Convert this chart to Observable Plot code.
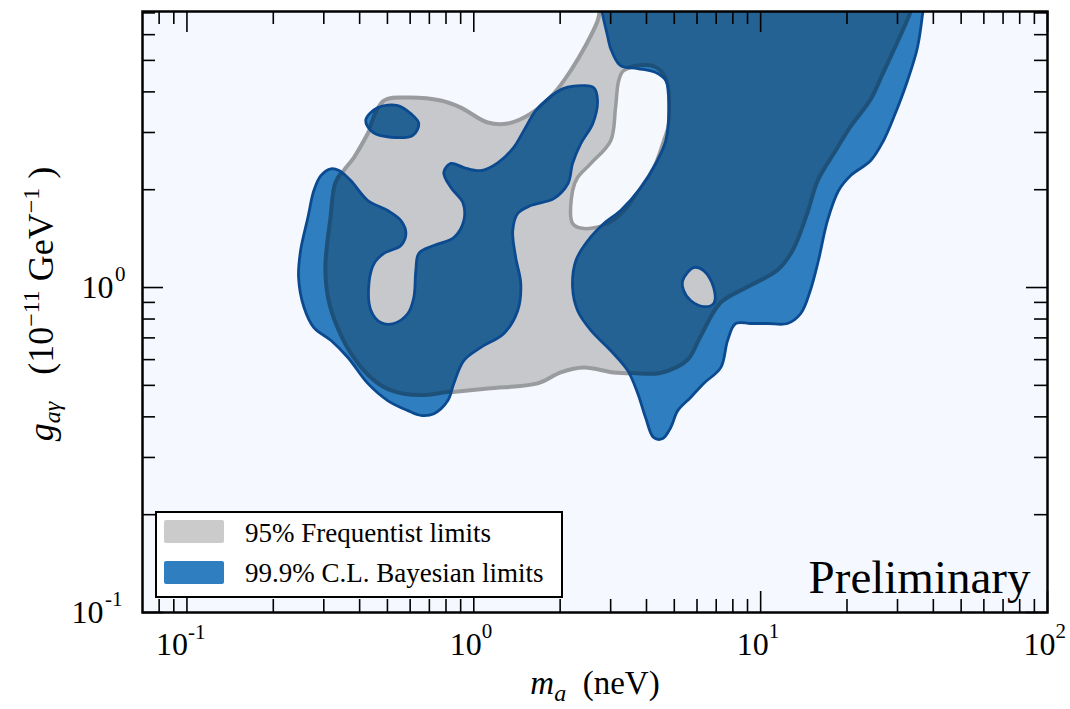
<!DOCTYPE html>
<html>
<head>
<meta charset="utf-8">
<script src="https://cdn.jsdelivr.net/npm/d3@7"></script>
<script src="https://cdn.jsdelivr.net/npm/@observablehq/plot@0.6"></script>
<style>
  body { margin: 0; background: #fff; }
  #wrap { position: relative; width: 1070px; height: 709px; font-family: "Liberation Serif", "DejaVu Serif", serif; color: #000; overflow: hidden; }
  #wrap svg { position: absolute; left: 0; top: 0; }
  .ov { position: absolute; white-space: nowrap; }
  #legend { position: absolute; left: 155px; top: 511px; width: 408px; height: 87px; box-sizing: border-box; border: 2px solid #000; background: #fff; }
  #legend .sw { position: absolute; width: 60px; height: 23px; border-radius: 2px; }
  #legend .lab { position: absolute; left: 88px; font-size: 27px; line-height: 27px; white-space: nowrap; }
  .sup { font-size: 24px; position: relative; top: -14px; }
  .sub { font-size: 24px; position: relative; top: 7px; }
</style>
</head>
<body>
<div id="wrap"></div>
<script>
// ---------- data (m_a in neV, g_agamma in 1e-11 GeV^-1) ----------
const frequentistOuter = [
  [0.318,1.641],[0.330,2.089],[0.352,2.291],[0.382,2.512],[0.427,2.978],[0.486,3.761],[0.589,3.843],
  [0.767,3.761],[0.901,3.579],[1.119,3.219],[1.313,3.197],[1.580,3.429],[1.900,3.953],[2.178,4.652],
  [2.455,5.555],[2.704,6.633],[2.770,7.37],[3.0,10],[34.7,10],[33.9,7.37],[33.3,6.97],[30.0,5.634],
  [26.8,4.55],[24.2,3.761],[20.6,3.106],[18.2,2.602],[15.9,2.134],[14.6,1.690],[13.0,1.300],[11.5,1.128],
  [9.01,1.0],[7.26,0.893],[6.18,0.702],[5.57,0.596],[4.48,0.544],[3.61,0.544],[3.07,0.548],[2.42,0.567],
  [2.01,0.548],[1.67,0.507],[1.119,0.489],[0.812,0.475],[0.654,0.465],[0.514,0.482],[0.449,0.518],
  [0.382,0.609],[0.339,0.738],[0.313,0.912],[0.305,1.152]
];
const frequentistHole = [
  [3.33,4.65],[4.04,4.82],[4.48,4.65],[4.74,4.24],[4.78,3.20],[4.59,2.83],[4.24,2.34],[3.82,2.03],
  [3.44,1.763],[3.00,1.585],[2.42,1.519],[2.21,1.574],[2.21,1.988],[2.30,2.18],[2.56,2.41],[3.00,2.83],
  [3.12,3.58],[3.20,4.33]
];
const bayesianLeft = [
  [0.318,2.32],[0.339,2.29],[0.373,2.13],[0.427,1.853],[0.501,1.726],[0.557,1.607],[0.580,1.466],
  [0.557,1.347],[0.486,1.273],[0.449,1.185],[0.431,1.029],[0.438,0.850],[0.474,0.780],[0.526,0.775],
  [0.589,0.832],[0.618,0.932],[0.628,1.128],[0.643,1.273],[0.726,1.347],[0.852,1.425],[0.923,1.607],
  [0.916,1.826],[0.832,2.03],[0.786,2.26],[0.832,2.41],[0.923,2.34],[1.058,2.29],[1.212,2.42],
  [1.378,2.70],[1.494,3.04],[1.644,3.50],[1.810,3.81],[2.06,4.10],[2.42,4.18],[2.62,4.12],[2.70,3.76],
  [2.60,3.20],[2.36,2.77],[2.21,2.41],[2.13,2.09],[1.90,1.878],[1.580,1.788],[1.423,1.69],[1.367,1.497],
  [1.400,1.237],[1.458,1.029],[1.423,0.850],[1.273,0.722],[1.058,0.654],[0.923,0.596],[0.852,0.507],
  [0.812,0.449],[0.726,0.409],[0.654,0.404],[0.589,0.418],[0.501,0.449],[0.427,0.507],[0.364,0.609],
  [0.318,0.687],[0.277,0.753],[0.256,0.868],[0.245,1.073],[0.249,1.30],[0.264,1.641],[0.277,1.988],
  [0.293,2.21]
];
const bayesianRight = [
  [2.91,10],[2.95,5.75],[3.05,5.25],[3.25,4.82],[3.73,4.72],[4.31,4.59],[4.67,4.33],[4.78,3.58],
  [4.67,2.83],[4.31,2.41],[3.82,2.03],[3.25,1.726],[2.84,1.574],[2.50,1.395],[2.27,1.211],[2.21,1.0],
  [2.30,0.850],[2.56,0.738],[3.00,0.640],[3.44,0.555],[3.73,0.472],[3.97,0.398],[4.24,0.345],[4.56,0.343],
  [4.86,0.371],[5.14,0.418],[5.70,0.459],[6.33,0.507],[7.26,0.567],[7.67,0.687],[8.18,0.775],[9.23,0.775],
  [10.6,0.775],[12.4,0.775],[13.8,0.832],[14.9,0.979],[15.9,1.211],[17.1,1.607],[18.7,1.988],[20.6,2.21],
  [24.2,2.46],[26.8,2.83],[29.1,3.34],[32.5,4.33],[35.2,5.47],[36.7,6.97],[38.2,10]
];
const bayesianIsland = [
  [0.420,3.27],[0.463,3.58],[0.543,3.63],[0.603,3.43],[0.643,3.20],[0.613,2.94],[0.514,2.90],[0.445,3.00]
];
const bayesianHole = [
  [5.35,1.051],[5.84,1.152],[6.33,1.128],[6.86,1.0],[6.86,0.893],[6.33,0.874],[5.70,0.912],[5.39,0.979]
];

const xMajorTicks = [0.1, 1, 10, 100];
const xTickExponents = ["-1", "0", "1", "2"];
const xMinorTicks = [0.08, 0.09, 0.2, 0.3, 0.4, 0.5, 0.6, 0.7, 0.8, 0.9, 2, 3, 4, 5, 6, 7, 8, 9, 20, 30, 40, 50, 60, 70, 80, 90];
const yMajorTicks = [0.1, 1];
const yTickExponents = ["-1", "0"];
const yMinorTicks = [0.2, 0.3, 0.4, 0.5, 0.6, 0.7, 0.8, 0.9, 2, 3, 4, 5, 6, 7];
const legendLabels = ["95% Frequentist limits", "99.9% C.L. Bayesian limits"];
const watermark = "Preliminary";

// ---------- styles (unique colour strings double as handles) ----------
const BG = "#f5f9ff";
const HOLE_BG = "#f5f9fe";
const GRAY_FILL = "#c6c8cc";
const HOLE_GRAY = "#c6c8cb";
const GRAY_LINE = "#9a9b9e";
const GRAY_LINE_HOLE = "#9a9b9d";
const BLUE = "#2f7ec0";           // Bayesian region on background
const BLUE_OVER_GRAY = "#246293"; // Bayesian region over the frequentist region
const GRAY_LINE_UNDER_BLUE = "#1e5179";
const BLUE_EDGE = "#0c4a90";

const W = 905, H = 601; // inner plot size (pixels)

const poly = (data, opts) => Plot.line(data, {
  x: d => d[0], y: d => d[1], curve: "catmull-rom-closed", clip: true, ...opts
});

const xLab = xMajorTicks.map((v, i) => ({v, e: xTickExponents[i]}));
const yLab = yMajorTicks.map((v, i) => ({v, e: yTickExponents[i]}));
const one = d => d.e.length === 1;
const two = d => d.e.length !== 1;

const plot = Plot.plot({
  width: 1070, height: 709,
  marginLeft: 142, marginRight: 23, marginTop: 11, marginBottom: 97,
  x: {type: "log", domain: [0.07, 100], axis: null},
  y: {type: "log", domain: [0.1, 7.07], axis: null},
  style: {fontFamily: '"Liberation Serif", "DejaVu Serif", serif', background: "transparent", color: "#000"},
  marks: [
    Plot.frame({fill: BG, stroke: "none"}),
    poly(frequentistOuter, {fill: GRAY_FILL, stroke: "none"}),
    poly(frequentistHole, {fill: HOLE_BG, stroke: "none"}),
    poly(frequentistOuter, {fill: "none", stroke: GRAY_LINE, strokeWidth: 4}),
    poly(frequentistHole, {fill: "none", stroke: GRAY_LINE_HOLE, strokeWidth: 3.5}),
    ...[bayesianLeft, bayesianRight, bayesianIsland].map(d =>
      poly(d, {fill: BLUE, stroke: "none"})),
    poly(bayesianHole, {fill: HOLE_GRAY, stroke: "none"}),
    ...[bayesianLeft, bayesianRight, bayesianIsland, bayesianHole].map(d =>
      poly(d, {fill: "none", stroke: BLUE_EDGE, strokeWidth: 2.8})),
    // ticks (inward, all four sides)
    Plot.ruleX(xMajorTicks, {x: d => d, insetTop: H - 21, stroke: "#000", strokeWidth: 1.6}),
    Plot.ruleX(xMajorTicks, {x: d => d, insetBottom: H - 21, stroke: "#000", strokeWidth: 1.6}),
    Plot.ruleX(xMinorTicks, {x: d => d, insetTop: H - 13, stroke: "#000", strokeWidth: 1.6}),
    Plot.ruleX(xMinorTicks, {x: d => d, insetBottom: H - 13, stroke: "#000", strokeWidth: 1.6}),
    Plot.ruleY(yMajorTicks, {y: d => d, insetRight: W - 21, stroke: "#000", strokeWidth: 1.6}),
    Plot.ruleY(yMajorTicks, {y: d => d, insetLeft: W - 21, stroke: "#000", strokeWidth: 1.6}),
    Plot.ruleY(yMinorTicks, {y: d => d, insetRight: W - 13, stroke: "#000", strokeWidth: 1.6}),
    Plot.ruleY(yMinorTicks, {y: d => d, insetLeft: W - 13, stroke: "#000", strokeWidth: 1.6}),
    Plot.frame({stroke: "#000", strokeWidth: 2.5}),
    // x tick labels
    Plot.text(xLab, {filter: one, x: "v", text: () => "10", frameAnchor: "bottom", textAnchor: "end", lineAnchor: "bottom", dx: 8, dy: 42, fontSize: 32, fill: "#000"}),
    Plot.text(xLab, {filter: one, x: "v", text: "e", frameAnchor: "bottom", textAnchor: "start", lineAnchor: "bottom", dx: 8, dy: 25, fontSize: 21, fill: "#000"}),
    Plot.text(xLab, {filter: two, x: "v", text: () => "10", frameAnchor: "bottom", textAnchor: "end", lineAnchor: "bottom", dx: 1, dy: 42, fontSize: 32, fill: "#000"}),
    Plot.text(xLab, {filter: two, x: "v", text: "e", frameAnchor: "bottom", textAnchor: "start", lineAnchor: "bottom", dx: 1, dy: 26, fontSize: 21, fill: "#000"}),
    // y tick labels
    Plot.text(yLab, {filter: one, y: "v", text: () => "10", frameAnchor: "left", textAnchor: "end", lineAnchor: "bottom", dx: -29, dy: 10, fontSize: 32, fill: "#000"}),
    Plot.text(yLab, {filter: one, y: "v", text: "e", frameAnchor: "left", textAnchor: "end", lineAnchor: "bottom", dx: -17, dy: -7, fontSize: 21, fill: "#000"}),
    Plot.text(yLab, {filter: two, y: "v", text: () => "10", frameAnchor: "left", textAnchor: "end", lineAnchor: "bottom", dx: -39, dy: 10, fontSize: 32, fill: "#000"}),
    Plot.text(yLab, {filter: two, y: "v", text: "e", frameAnchor: "left", textAnchor: "end", lineAnchor: "bottom", dx: -20, dy: -7, fontSize: 21, fill: "#000"}),
    // watermark
    Plot.text([watermark], {text: d => d, frameAnchor: "bottom-right", textAnchor: "end", lineAnchor: "bottom", dx: -17, dy: -20, fontSize: 47, fill: "#000"})
  ]
});

// ---------- overlap shading: Bayesian region over the frequentist region ----------
try {
  const NS = "http://www.w3.org/2000/svg";
  const allPaths = Array.from(plot.querySelectorAll("path"));
  const attrOf = (p, a) => {
    for (let el = p; el && el !== plot; el = el.parentNode) {
      const v = el.getAttribute && el.getAttribute(a);
      if (v != null) return v.toLowerCase();
    }
    return null;
  };
  const byFill = c => allPaths.filter(p => attrOf(p, "fill") === c.toLowerCase());
  const byStroke = c => allPaths.filter(p => attrOf(p, "stroke") === c.toLowerCase());
  const topLevel = el => { while (el.parentNode && el.parentNode !== plot) el = el.parentNode; return el; };

  const blueFills = byFill(BLUE);
  const grayOuter = byFill(GRAY_FILL);
  const grayHole = byFill(HOLE_BG);
  const grayLines = [...byStroke(GRAY_LINE), ...byStroke(GRAY_LINE_HOLE)];
  const holeFill = byFill(HOLE_GRAY);

  if (blueFills.length && grayOuter.length && holeFill.length) {
    let defs = plot.querySelector("defs");
    if (!defs) { defs = document.createElementNS(NS, "defs"); plot.insertBefore(defs, plot.firstChild); }
    const makeClip = (id, ds, rule) => {
      const cp = document.createElementNS(NS, "clipPath");
      cp.setAttribute("id", id);
      const p = document.createElementNS(NS, "path");
      p.setAttribute("d", ds.join(" "));
      p.setAttribute("clip-rule", rule);
      cp.appendChild(p);
      defs.appendChild(cp);
    };
    makeClip("ovl-gray", [...grayOuter, ...grayHole].map(p => p.getAttribute("d")), "evenodd");
    makeClip("ovl-blue", blueFills.map(p => p.getAttribute("d")), "nonzero");

    const anchor = topLevel(holeFill[0]);
    const clipHolder = blueFills[0].closest("[clip-path]");
    const frameClip = clipHolder ? clipHolder.getAttribute("clip-path") : null;

    const outer = document.createElementNS(NS, "g");
    if (frameClip) outer.setAttribute("clip-path", frameClip);

    const dark = document.createElementNS(NS, "g");
    dark.setAttribute("clip-path", "url(#ovl-gray)");
    blueFills.forEach(p => {
      const c = p.cloneNode(false);
      c.setAttribute("fill", BLUE_OVER_GRAY);
      c.setAttribute("stroke", "none");
      dark.appendChild(c);
    });
    outer.appendChild(dark);

    const lines = document.createElementNS(NS, "g");
    lines.setAttribute("clip-path", "url(#ovl-blue)");
    grayLines.forEach(p => {
      const c = p.cloneNode(false);
      c.setAttribute("fill", "none");
      c.setAttribute("stroke", GRAY_LINE_UNDER_BLUE);
      c.setAttribute("stroke-width", "4");
      c.setAttribute("stroke-linejoin", "round");
      lines.appendChild(c);
    });
    outer.appendChild(lines);

    anchor.parentNode.insertBefore(outer, anchor);
  }
} catch (e) { console.error(e); }

const wrap = document.getElementById("wrap");
wrap.appendChild(plot);

// legend
const legend = document.createElement("div");
legend.id = "legend";
legend.innerHTML =
  `<div class="sw" style="left:7px;top:7px;background:#cbcbcb"></div>` +
  `<div class="lab" style="top:7px">${legendLabels[0]}</div>` +
  `<div class="sw" style="left:7px;top:48px;background:${BLUE}"></div>` +
  `<div class="lab" style="top:47px">${legendLabels[1]}</div>`;
wrap.appendChild(legend);

// axis titles
const xt = document.createElement("div");
xt.className = "ov";
xt.style.cssText = "left:395px;top:667px;width:400px;text-align:center;font-size:33px;line-height:33px;";
xt.innerHTML = `<i>m</i><span class="sub"><i>a</i></span>&nbsp;&nbsp;(neV)`;
wrap.appendChild(xt);

const yt = document.createElement("div");
yt.className = "ov";
yt.style.cssText = "left:-209px;top:284px;width:500px;height:40px;text-align:center;font-size:36px;line-height:40px;transform:rotate(-90deg);transform-origin:50% 50%;";
yt.innerHTML = `<i>g</i><span class="sub"><i>aγ</i></span>&nbsp;&nbsp;&nbsp;(10<span class="sup">−11</span>&nbsp;GeV<span class="sup">−1</span>&nbsp;)`;
wrap.appendChild(yt);
</script>
</body>
</html>
